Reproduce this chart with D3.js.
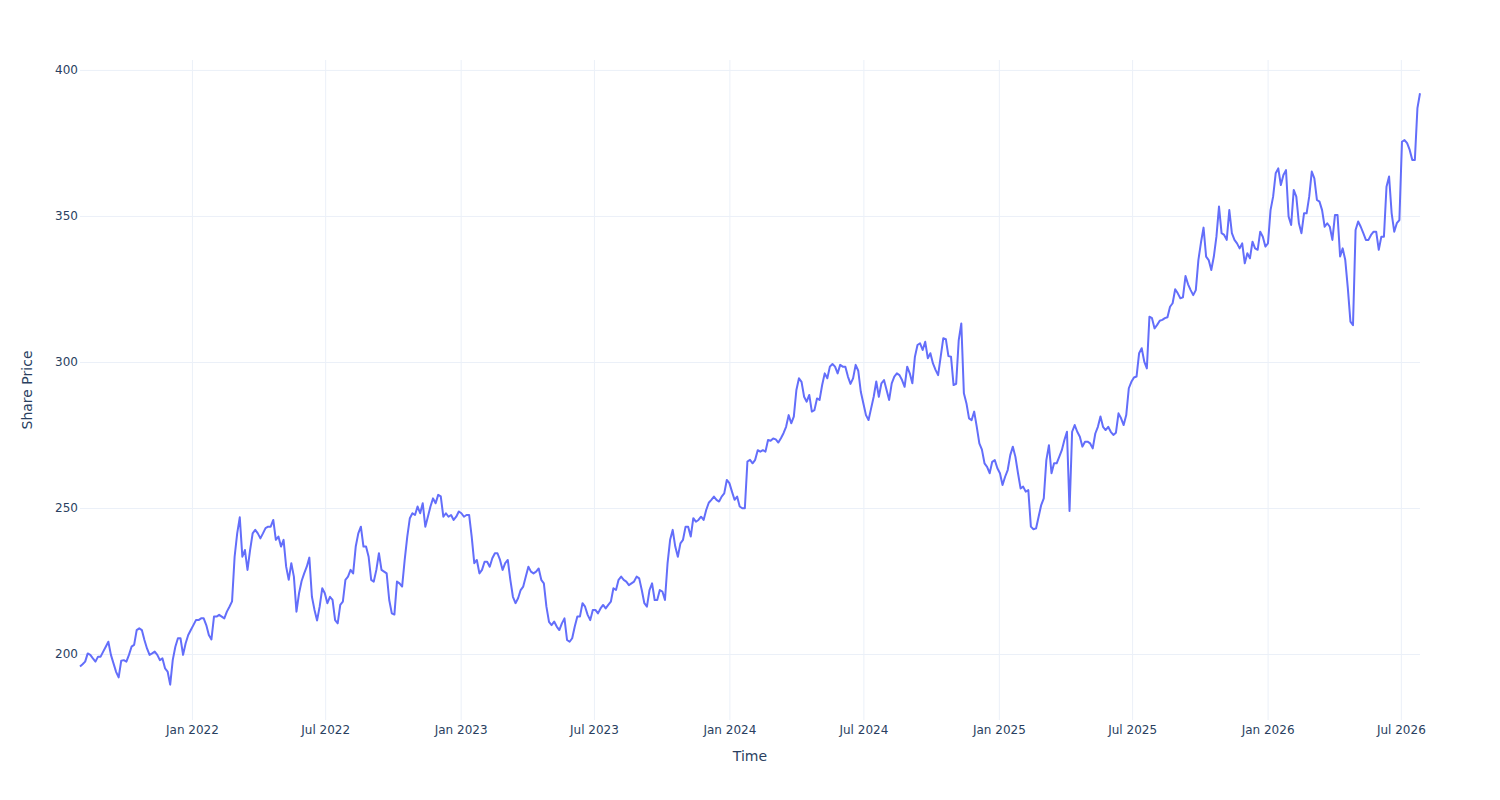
<!DOCTYPE html>
<html>
<head>
<meta charset="utf-8">
<script src="https://cdn.jsdelivr.net/npm/d3@7"></script>
<style>
body { margin: 0; background: #fff; }
svg text { font-family: "DejaVu Sans", Verdana, sans-serif; fill: #2a3f5f; }
.grid line { stroke: #ebf0f8; stroke-width: 1; }
.grid .domain { display: none; }
.labels .domain { display: none; }
</style>
</head>
<body>
<svg id="chart" width="1500" height="800"></svg>
<script>
// closes read twice a week (every 84 hours), first one on startDate
var startDate = "2021-08-02";
var stepHours = 84;
var prices = [
    195.7, 196.5, 197.4, 200.2, 199.7, 198.5, 197.4, 199.1, 199.1, 200.8,
    202.5, 204.2, 199.7, 196.8, 193.9, 192.0, 197.7, 197.9, 197.4, 199.7,
    202.5, 203.1, 208.2, 208.8, 208.2, 204.8, 201.9, 199.7, 200.2, 200.8,
    199.7, 197.9, 198.5, 195.1, 194.0, 189.5, 198.0, 202.5, 205.4, 205.4,
    199.7, 203.7, 206.5, 208.2, 209.9, 211.6, 211.6, 212.2, 212.2, 209.9,
    206.5, 205.0, 212.8, 212.8, 213.4, 212.8, 212.2, 214.5, 216.2, 218.0,
    233.3, 241.3, 246.8, 233.3, 235.6, 228.8, 235.6, 241.3, 242.5, 241.3,
    239.6, 241.3, 243.1, 243.6, 243.6, 245.9, 239.1, 240.2, 236.8, 239.1,
    229.9, 225.4, 231.1, 226.5, 214.5, 220.8, 225.0, 227.6, 229.9, 233.0,
    219.6, 215.1, 211.5, 216.2, 222.5, 220.8, 217.4, 219.6, 218.5, 211.6,
    210.5, 216.8, 217.9, 225.4, 226.5, 228.8, 227.6, 236.8, 241.3, 243.6,
    236.8, 236.8, 233.3, 225.4, 224.8, 228.8, 234.5, 228.8, 228.2, 227.6,
    218.5, 213.9, 213.5, 224.8, 224.2, 223.1, 232.2, 240.2, 246.5, 248.2,
    247.6, 250.5, 248.2, 251.6, 243.6, 247.0, 250.5, 253.3, 251.6, 254.5,
    254.0, 247.0, 248.2, 247.0, 247.6, 245.9, 247.0, 248.8, 248.2, 247.0,
    247.6, 247.6, 240.2, 231.1, 232.2, 227.6, 228.8, 231.6, 231.6, 229.9,
    232.8, 234.5, 234.5, 232.2, 228.8, 231.1, 232.2, 225.4, 219.6, 217.4,
    219.1, 221.9, 223.1, 226.5, 229.9, 228.2, 227.6, 228.2, 229.3, 225.4,
    224.2, 216.2, 211.0, 209.9, 211.1, 209.4, 208.2, 210.5, 212.2, 204.8,
    204.2, 205.4, 209.4, 212.8, 212.8, 217.4, 216.2, 213.4, 211.6, 215.1,
    215.1, 213.9, 215.6, 216.8, 215.6, 216.8, 217.9, 222.5, 221.9, 225.4,
    226.5, 225.4, 224.8, 223.6, 224.2, 224.8, 226.5, 225.9, 221.9, 217.4,
    216.2, 221.9, 224.2, 218.5, 218.5, 221.9, 221.4, 218.5, 231.0, 239.1,
    242.5, 236.8, 233.3, 237.9, 239.1, 243.6, 243.6, 240.2, 246.5, 245.3,
    245.9, 247.0, 245.9, 249.3, 251.8, 252.8, 253.9, 252.8, 252.2, 253.9,
    255.0, 259.6, 258.5, 255.6, 252.8, 253.9, 250.5, 249.9, 249.9, 265.9,
    266.5, 265.3, 266.5, 269.8, 269.3, 269.8, 269.3, 273.3, 273.0, 273.8,
    273.5, 272.4, 273.9, 275.6, 277.8, 281.8, 279.0, 281.3, 290.4, 294.4,
    293.2, 288.1, 286.4, 288.7, 283.0, 283.5, 287.5, 287.0, 292.1, 296.1,
    294.4, 298.4, 299.3, 298.4, 296.1, 299.0, 298.4, 298.4, 295.0, 292.5,
    294.4, 299.0, 297.0, 289.8, 285.8, 281.8, 280.1, 284.1, 288.1, 293.3,
    288.1, 292.7, 293.8, 290.4, 287.0, 292.7, 295.0, 296.1, 295.5, 293.8,
    291.5, 298.4, 296.1, 292.7, 301.8, 305.8, 306.4, 304.1, 306.9, 301.3,
    303.0, 299.5, 297.3, 295.5, 301.8, 308.1, 307.8, 302.0, 301.8, 292.1,
    292.5, 307.5, 313.2, 289.3, 285.8, 280.7, 280.1, 283.0, 277.8, 272.1,
    270.0, 265.3, 264.1, 261.9, 265.8, 266.4, 263.6, 261.9, 257.9, 260.7,
    263.0, 268.1, 271.0, 267.5, 261.9, 256.7, 257.3, 255.6, 256.1, 243.6,
    242.7, 243.0, 247.0, 251.0, 253.3, 266.4, 271.5, 261.9, 265.3, 265.3,
    267.5, 269.8, 273.3, 276.1, 249.0, 276.1, 278.4, 276.1, 274.4, 271.0,
    272.7, 272.7, 272.1, 270.4, 275.5, 277.8, 281.3, 277.8, 276.7, 277.8,
    276.1, 275.0, 275.8, 282.4, 280.7, 278.4, 281.8, 291.0, 293.2, 294.7,
    295.0, 303.0, 304.7, 300.1, 297.8, 315.5, 315.0, 311.5, 312.7, 314.1,
    314.4, 315.0, 315.3, 318.9, 320.1, 324.9, 323.5, 321.8, 322.1, 329.4,
    326.6, 324.6, 322.9, 324.6, 334.9, 340.9, 346.0, 336.1, 334.9, 331.5,
    336.1, 342.9, 353.2, 344.1, 343.5, 341.8, 352.0, 344.1, 341.8, 340.6,
    338.9, 340.6, 333.8, 337.2, 335.5, 341.2, 338.9, 338.4, 344.6, 342.9,
    339.5, 340.6, 352.0, 356.6, 364.6, 366.3, 360.6, 364.0, 365.7, 349.8,
    346.9, 358.9, 356.6, 347.5, 344.1, 350.9, 350.9, 356.6, 365.2, 362.9,
    355.5, 354.9, 352.0, 346.3, 347.5, 346.3, 341.8, 350.3, 350.3, 336.1,
    338.9, 334.9, 325.2, 313.8, 312.6, 345.2, 348.1, 346.3, 344.1, 341.8,
    341.8, 343.5, 344.6, 344.6, 338.4, 342.9, 342.9, 360.0, 363.5, 350.9,
    344.6, 347.5, 348.6, 375.4, 376.0, 374.9, 372.6, 369.2, 369.2, 386.9,
    392.0
];
var yTicks = [200, 250, 300, 350, 400];
var xTicks = ["2022-01-01", "2022-07-01", "2023-01-01", "2023-07-01", "2024-01-01",
              "2024-07-01", "2025-01-01", "2025-07-01", "2026-01-01", "2026-07-01"];

var parse = d3.timeParse("%Y-%m-%d");
var start = parse(startDate);
var data = prices.map(function(p, i) {
    return { date: d3.timeHour.offset(start, stepHours * i), price: p };
});

var margin = { top: 60, right: 80, bottom: 80, left: 80 };
var width = 1500, height = 800;
var svg = d3.select("#chart");

var x = d3.scaleTime()
    .domain(d3.extent(data, function(d) { return d.date; }))
    .range([margin.left, width - margin.right]);
var y = d3.scaleLinear()
    .domain([177.4, 403.4])
    .range([height - margin.bottom, margin.top]);

var plotW = width - margin.left - margin.right;
var plotH = height - margin.top - margin.bottom;
var xTickDates = xTicks.map(parse);

// gridlines
svg.append("g")
    .attr("class", "grid")
    .attr("transform", "translate(0," + (height - margin.bottom) + ")")
    .call(d3.axisBottom(x).tickValues(xTickDates).tickSize(-plotH).tickFormat(""));
svg.append("g")
    .attr("class", "grid")
    .attr("transform", "translate(" + margin.left + ",0)")
    .call(d3.axisLeft(y).tickValues(yTicks).tickSize(-plotW).tickFormat(""));

// tick labels
svg.append("g")
    .attr("class", "labels")
    .attr("transform", "translate(0," + (height - margin.bottom) + ")")
    .call(d3.axisBottom(x).tickValues(xTickDates).tickSize(0).tickPadding(5)
        .tickFormat(d3.timeFormat("%b %Y")));
svg.append("g")
    .attr("class", "labels")
    .attr("transform", "translate(" + margin.left + ",0)")
    .call(d3.axisLeft(y).tickValues(yTicks).tickSize(0).tickPadding(2));
svg.selectAll(".labels text")
    .attr("fill", "#2a3f5f")
    .style("font-size", "12px")
    .style("font-family", "'DejaVu Sans', Verdana, sans-serif");

var line = d3.line()
    .x(function(d) { return x(d.date); })
    .y(function(d) { return y(d.price); });

svg.append("path")
    .datum(data)
    .attr("fill", "none")
    .attr("stroke", "#636efa")
    .attr("stroke-width", 2)
    .attr("stroke-linejoin", "round")
    .attr("d", line);

// axis titles
svg.append("text")
    .attr("x", margin.left + plotW / 2)
    .attr("y", 761)
    .attr("text-anchor", "middle")
    .style("font-size", "14px")
    .text("Time");
svg.append("text")
    .attr("transform", "translate(32," + (margin.top + plotH / 2) + ") rotate(-90)")
    .attr("text-anchor", "middle")
    .style("font-size", "14px")
    .text("Share Price");
</script>
</body>
</html>
